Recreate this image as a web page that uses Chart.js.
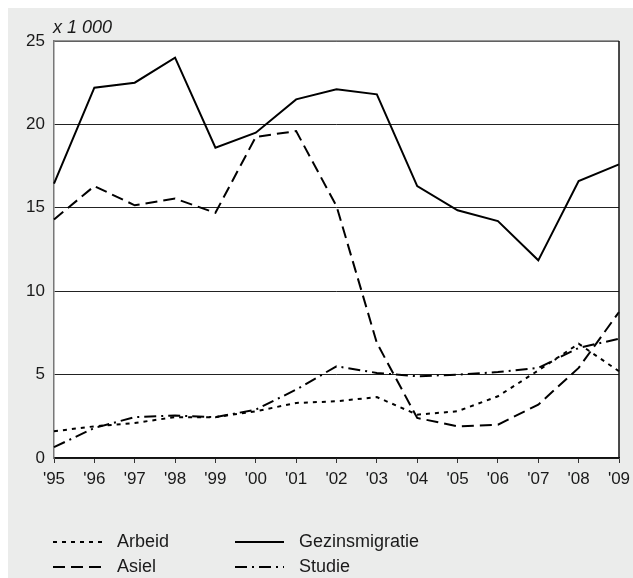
<!DOCTYPE html>
<html>
<head>
<meta charset="utf-8">
<script src="https://cdn.jsdelivr.net/npm/chart.js@4/dist/chart.umd.min.js"></script>
<style>
  html, body { margin: 0; padding: 0; background: #fff; }
  #wrap { width: 633px; height: 578px; }
</style>
</head>
<body>
<div id="wrap"><canvas id="myChart" width="633" height="578"></canvas></div>
<script>
// values in thousands
const years = ["'95", "'96", "'97", "'98", "'99", "'00", "'01", "'02", "'03", "'04", "'05", "'06", "'07", "'08", "'09"];
const arbeid = [1.6, 1.9, 2.1, 2.45, 2.45, 2.8, 3.3, 3.4, 3.65, 2.6, 2.8, 3.7, 5.25, 6.85, 5.2];
const asiel = [14.3, 16.3, 15.15, 15.55, 14.7, 19.25, 19.6, 15.1, 6.9, 2.4, 1.9, 2.0, 3.2, 5.4, 8.75];
const gezinsmigratie = [16.45, 22.2, 22.5, 24.0, 18.6, 19.5, 21.5, 22.1, 21.8, 16.3, 14.85, 14.2, 11.85, 16.6, 17.6];
const studie = [0.65, 1.8, 2.45, 2.55, 2.45, 2.9, 4.1, 5.5, 5.1, 4.9, 5.0, 5.15, 5.4, 6.6, 7.15];
const yTicks = [0, 5, 10, 15, 20, 25];
const unitLabel = "x 1 000";

const FONT = "'Liberation Sans', Arial, Helvetica, sans-serif";

const backdrop = {
  id: "backdrop",
  beforeDraw(chart) {
    const ctx = chart.ctx;
    const a = chart.chartArea;
    ctx.save();
    ctx.fillStyle = "#ebeceb";
    ctx.fillRect(8, 8, chart.width - 8, chart.height - 8);
    ctx.fillStyle = "#ffffff";
    ctx.fillRect(a.left, a.top, a.right - a.left, a.bottom - a.top);
    ctx.restore();
  },
  afterDraw(chart) {
    const ctx = chart.ctx;
    const a = chart.chartArea;
    ctx.save();
    // frame
    ctx.lineWidth = 1.5;
    ctx.strokeStyle = "#777";
    ctx.beginPath();
    ctx.moveTo(a.left, a.top);
    ctx.lineTo(a.right, a.top);
    ctx.stroke();
    ctx.strokeStyle = "#111";
    ctx.beginPath();
    ctx.moveTo(a.right, a.top);
    ctx.lineTo(a.right, a.bottom);
    ctx.stroke();
    // unit label
    ctx.fillStyle = "#1a1a1a";
    ctx.font = "italic 18px " + FONT;
    ctx.textBaseline = "alphabetic";
    ctx.textAlign = "left";
    ctx.fillText(unitLabel, 53, 33);
    // legend, two columns
    const pos = [[53, 542], [53, 567], [235, 542], [235, 567]];
    ctx.font = "18px " + FONT;
    ctx.textBaseline = "middle";
    chart.data.datasets.forEach((ds, k) => {
      const [x, y] = pos[k];
      ctx.strokeStyle = ds.borderColor;
      ctx.lineWidth = ds.borderWidth;
      ctx.setLineDash(ds.borderDash || []);
      ctx.beginPath();
      ctx.moveTo(x, y);
      ctx.lineTo(x + 49, y);
      ctx.stroke();
      ctx.setLineDash([]);
      ctx.fillStyle = "#1a1a1a";
      ctx.fillText(ds.label, x + 64, y);
    });
    ctx.restore();
  }
};

const ctx = document.getElementById("myChart").getContext("2d");
const myChart = new Chart(ctx, {
  type: "line",
  data: {
    labels: years,
    datasets: [
      { label: "Arbeid", data: arbeid, borderDash: [4, 5] },
      { label: "Asiel", data: asiel, borderDash: [12, 6] },
      { label: "Gezinsmigratie", data: gezinsmigratie, borderDash: [] },
      { label: "Studie", data: studie, borderDash: [12, 5, 2, 5] }
    ].map(d => Object.assign(d, {
      borderColor: "#000",
      borderWidth: 2,
      pointRadius: 0,
      tension: 0,
      fill: false
    }))
  },
  options: {
    responsive: false,
    animation: false,
    layout: { padding: { left: 0, right: 14, top: 41, bottom: 90 } },
    plugins: {
      legend: { display: false },
      tooltip: { enabled: false }
    },
    scales: {
      x: {
        offset: false,
        grid: { drawOnChartArea: false, tickLength: 5, color: "#333", lineWidth: 1 },
        border: { color: "#111", width: 1.5 },
        ticks: { color: "#1a1a1a", font: { family: FONT, size: 17 }, padding: 6, maxRotation: 0, autoSkip: false },
        afterFit(scale) {
          scale.height = 30;
          scale.paddingLeft = 0;
          scale.paddingRight = 0;
        }
      },
      y: {
        min: 0,
        max: 25,
        afterBuildTicks(scale) { scale.ticks = yTicks.map(v => ({ value: v })); },
        grid: { drawTicks: false, color: "#222", lineWidth: 1 },
        border: { color: "#777", width: 1.5 },
        ticks: { color: "#1a1a1a", font: { family: FONT, size: 17 }, padding: 9 },
        afterFit(scale) {
          scale.width = 54;
          scale.paddingTop = 0;
          scale.paddingBottom = 0;
        }
      }
    }
  },
  plugins: [backdrop]
});
</script>
</body>
</html>
